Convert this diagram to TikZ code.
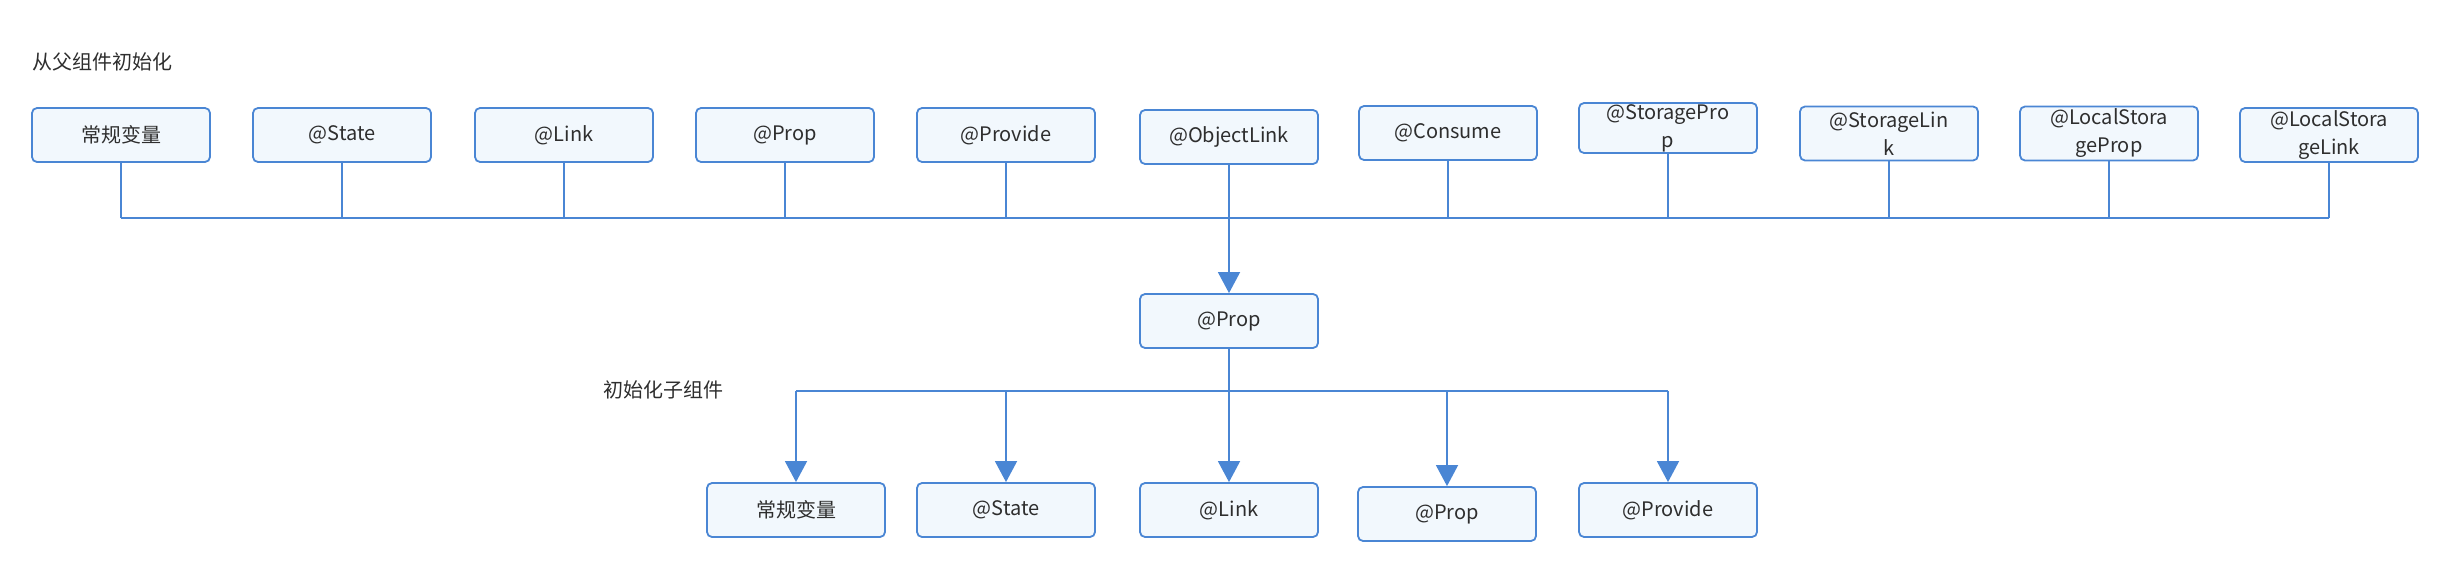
\documentclass[tikz,border=0pt]{standalone}
\usepackage{fontspec}
\newfontfamily\cjk{Noto Sans CJK SC}
\usetikzlibrary{arrows.meta}
\definecolor{lineblue}{HTML}{4A86D4}
\definecolor{boxfill}{HTML}{F2F8FD}
\definecolor{txtgray}{HTML}{2E2E2E}
\tikzset{
 box/.style={draw=lineblue, fill=boxfill, line width=1.8pt, rounded corners=5pt, minimum width=178pt, minimum height=54pt, inner sep=0pt, text=txtgray, font=\cjk\fontsize{20}{28}\selectfont, align=center},
 conn/.style={draw=lineblue, line width=1.6pt},
 arr/.style={conn, -{Triangle[width=22pt,length=21pt]}},
 lbl/.style={text=txtgray, font=\cjk\fontsize{20}{24}\selectfont, inner sep=0pt, anchor=west}
}
\begin{document}
\begin{tikzpicture}[x=1pt,y=-1pt]
\useasboundingbox (0,0) rectangle (2462,586);
\node[lbl] (title) at (32,62) {从父组件初始化};
\node[lbl] (sub) at (603,390) {初始化子组件};
% top row
\node[box] (t1) at (121,135) {常规变量};
\node[box] (t2) at (342,135) {@State};
\node[box] (t3) at (564,135) {@Link};
\node[box] (t4) at (785,135) {@Prop};
\node[box] (t5) at (1006,135) {@Provide};
\node[box] (t6) at (1229,137) {@ObjectLink};
\node[box] (t7) at (1448,133) {@Consume};
\node[box, minimum height=50pt] (t8) at (1668,128) {@StoragePro\\p};
\node[box] (t9) at (1889,133.5) {@StorageLin\\k};
\node[box] (t10) at (2109,133.5) {@LocalStora\\geProp};
\node[box] (t11) at (2329,135) {@LocalStora\\geLink};
% middle
\node[box] (mid) at (1229,321) {@Prop};
% bottom row
\node[box] (b1) at (796,510) {常规变量};
\node[box] (b2) at (1006,510) {@State};
\node[box] (b3) at (1229,510) {@Link};
\node[box] (b4) at (1447,514) {@Prop};
\node[box] (b5) at (1668,510) {@Provide};
% buses
\coordinate (bus) at (0,218);
\coordinate (bus2) at (0,391);
\foreach \n in {t1,t2,t3,t4,t5,t7,t8,t9,t10,t11}{
  \draw[conn] (\n.south) -- (\n.south |- bus);
}
\draw[conn] (t1.south |- bus) -- (t11.south |- bus);
\draw[arr] (t6.south) -- (mid.north);
\draw[conn] (mid.south) -- (mid.south |- bus2);
\draw[conn] (b1.north |- bus2) -- (b5.north |- bus2);
\foreach \n in {b1,b2,b3,b4,b5}{
  \draw[arr] (\n.north |- bus2) -- (\n.north);
}
\end{tikzpicture}
\end{document}
